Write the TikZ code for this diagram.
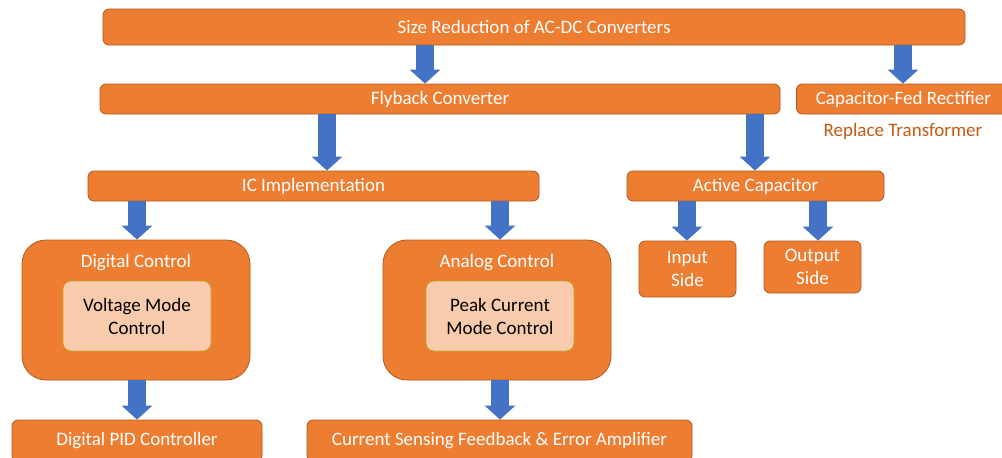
\documentclass[tikz,border=0pt]{standalone}
\usepackage{fontspec}
\setmainfont{Carlito}
\usetikzlibrary{arrows.meta}
\definecolor{boxor}{HTML}{ED7D31}
\definecolor{boxedge}{HTML}{AE5A21}
\definecolor{innerfill}{HTML}{F8CBAD}
\definecolor{inneredge}{HTML}{C9A227}
\definecolor{arrblue}{HTML}{4472C4}
\definecolor{noteor}{HTML}{C55A11}
\tikzset{
  obox/.style={draw=boxedge, line width=0.8pt, fill=boxor, rounded corners=6pt,
    text=white, font=\fontsize{19}{23}\selectfont, inner sep=0pt, align=center},
  bigbox/.style={draw=boxedge, line width=0.8pt, fill=boxor, rounded corners=24pt, inner sep=0pt},
  ibox/.style={draw=inneredge, line width=0.8pt, fill=innerfill, rounded corners=8pt,
    text=black, font=\fontsize{19}{23}\selectfont, inner sep=0pt, align=center},
  ttl/.style={text=white, font=\fontsize{19}{23}\selectfont, inner sep=0pt},
  barrow/.style={draw=arrblue, line width=18pt, -{Triangle[width=30pt,length=14pt]}, shorten >=0pt},
}
\begin{document}
\begin{tikzpicture}[x=1pt,y=-1pt]
\clip (0,0) rectangle (1002,458);
\fill[white] (0,0) rectangle (1002,458);
% top row
\node[obox, minimum width=862pt, minimum height=36pt] (top) at (534,27) {Size Reduction of AC-DC Converters};
\node[obox, minimum width=680pt, minimum height=30pt] (fly) at (440,99) {Flyback Converter};
\node[obox, minimum width=214pt, minimum height=30pt, anchor=west] (cfr) at (796,99) {Capacitor-Fed Rectifier};
\node[text=noteor, font=\fontsize{19}{23}\selectfont, inner sep=0pt] (rep) at (903,131) {Replace Transformer};
\node[obox, minimum width=451pt, minimum height=30pt] (ic) at (313.5,186) {IC Implementation};
\node[obox, minimum width=257pt, minimum height=30pt] (act) at (755.5,186) {Active Capacitor};
% control boxes
\node[bigbox, minimum width=228pt, minimum height=140pt] (dig) at (136,310) {};
\node[ttl] (digt) at (136,263) {Digital Control};
\node[ibox, minimum width=148pt, minimum height=70pt] (vmc) at (137,316) {Voltage Mode\\Control};
\node[bigbox, minimum width=228pt, minimum height=140pt] (ana) at (497,310) {};
\node[ttl] (anat) at (497,263) {Analog Control};
\node[ibox, minimum width=148pt, minimum height=70pt] (pcm) at (500,316) {Peak Current\\Mode Control};
\node[obox, minimum width=97pt, minimum height=56pt] (ins) at (687.5,269) {Input\\Side};
\node[obox, minimum width=97pt, minimum height=52pt] (outs) at (812.5,267) {Output\\Side};
% bottom
\node[obox, minimum width=250pt, minimum height=42pt] (pid) at (137,441) {Digital PID Controller};
\node[obox, minimum width=385pt, minimum height=42pt] (csf) at (499.5,441) {Current Sensing Feedback \& Error Amplifier};
% arrow columns
\coordinate (x1) at (425,0);
\coordinate (x2) at (903,0);
\coordinate (x3) at (327,0);
\coordinate (x4) at (755,0);
\coordinate (x5) at (137,0);
\coordinate (x6) at (500,0);
\coordinate (x7) at (687,0);
\coordinate (x8) at (818,0);
\draw[barrow] (x1 |- top.south) -- (x1 |- fly.north);
\draw[barrow] (x2 |- top.south) -- (x2 |- cfr.north);
\draw[barrow] (x3 |- fly.south) -- (x3 |- ic.north);
\draw[barrow] (x4 |- fly.south) -- (x4 |- act.north);
\draw[barrow] (x5 |- ic.south) -- (x5 |- dig.north);
\draw[barrow] (x6 |- ic.south) -- (x6 |- ana.north);
\draw[barrow] (x7 |- act.south) -- (x7 |- ins.north);
\draw[barrow] (x8 |- act.south) -- (x8 |- outs.north);
\draw[barrow] (x5 |- dig.south) -- (x5 |- pid.north);
\draw[barrow] (x6 |- ana.south) -- (x6 |- csf.north);
\end{tikzpicture}
\end{document}
